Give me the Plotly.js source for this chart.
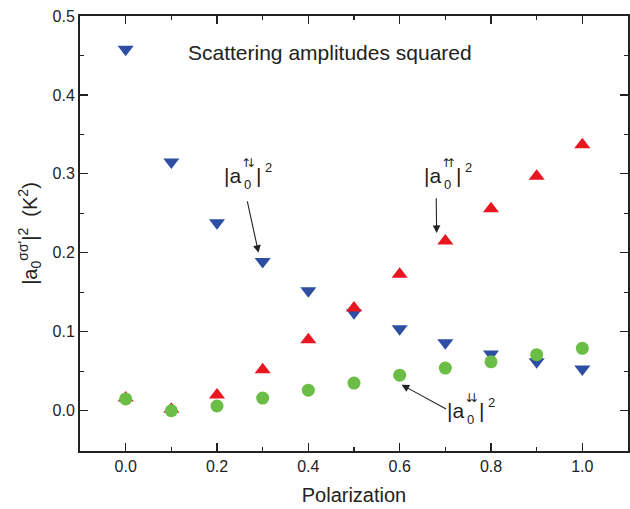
<!DOCTYPE html>
<html><head><meta charset="utf-8">
<script src="https://cdn.plot.ly/plotly-3.0.1.min.js"></script>
<style>html,body{margin:0;padding:0;background:#fff;}</style>
</head><body><div id="chart" style="width:630px;height:509px;"></div>
<script>
const polarization = [0.0, 0.1, 0.2, 0.3, 0.4, 0.5, 0.6, 0.7, 0.8, 0.9, 1.0];
const upDown   = [0.458, 0.315, 0.238, 0.189, 0.152, 0.124, 0.104, 0.086, 0.072, 0.062, 0.053];
const upUp     = [0.016, 0.002, 0.020, 0.052, 0.090, 0.130, 0.173, 0.215, 0.256, 0.297, 0.337];
const downDown = [0.015, 0.000, 0.006, 0.016, 0.026, 0.035, 0.045, 0.054, 0.062, 0.071, 0.079];
const xTickStep = 0.2, xMinorStep = 0.1;
const yTickStep = 0.1, yMinorStep = 0.05;
const tickFormat = ".1f";

const FONT = "Liberation Sans, Arial, sans-serif";
const INK = "#222";
const traces = [
  {x: polarization, y: upDown, mode: "markers", type: "scatter",
   marker: {symbol: "triangle-down", size: 14, color: "#2D4EA2"}},
  {x: polarization, y: upUp, mode: "markers", type: "scatter",
   marker: {symbol: "triangle-up", size: 14, color: "#E8161F"}},
  {x: polarization, y: downDown, mode: "markers", type: "scatter",
   marker: {symbol: "circle", size: 13, color: "#6BBE45"}}
];

function label(x, y, a1, a2) {
  const base = {xref: "x", yref: "y", x: x, y: y, showarrow: false,
                font: {family: FONT, size: 21, color: INK}};
  const small = {family: FONT, size: 13, color: INK};
  const arr = {family: "DejaVu Sans", size: 12, color: INK};
  return [
    Object.assign({}, base, {text: "|a", xanchor: "right", yanchor: "middle"}),
    Object.assign({}, base, {text: a1, xanchor: "center", yanchor: "middle",
                  xshift: 3, yshift: 13, font: arr}),
    Object.assign({}, base, {text: a2, xanchor: "center", yanchor: "middle",
                  xshift: 8, yshift: 13, font: arr}),
    Object.assign({}, base, {text: "0", xanchor: "left", yanchor: "middle",
                  xshift: -1, yshift: -9, font: small}),
    Object.assign({}, base, {text: "|", xanchor: "left", yanchor: "middle", xshift: 11}),
    Object.assign({}, base, {text: "2", xanchor: "left", yanchor: "middle",
                  xshift: 20, yshift: 8, font: small})
  ];
}
function arrow(x, y, ax, ay) {
  return {xref: "x", yref: "y", axref: "x", ayref: "y", x: x, y: y, ax: ax, ay: ay,
          text: "", showarrow: true, arrowhead: 2, arrowsize: 1.4, arrowwidth: 1.1,
          arrowcolor: INK};
}

const annotations = [
  {xref: "x", yref: "y", x: 0.448, y: 0.454, text: "Scattering amplitudes squared",
   showarrow: false, font: {family: FONT, size: 21, color: INK}},
  ...label(0.2576, 0.2975, "↑", "↓"),
  ...label(0.694, 0.2975, "↑", "↑"),
  ...label(0.7445, 0.0, "↓", "↓"),
  arrow(0.291, 0.200, 0.2657, 0.267),
  arrow(0.681, 0.225, 0.680, 0.271),
  arrow(0.604, 0.033, 0.705, 0.0013)
];

function axis(range, step, minorStep, title, standoff) {
  return {
    range: range, tickmode: "linear", tick0: 0, dtick: step, tickformat: tickFormat,
    showgrid: false, zeroline: false, showline: true, linecolor: INK, linewidth: 2,
    mirror: "ticks", ticks: "inside", ticklen: 8, tickwidth: 1.2, tickcolor: INK,
    tickfont: {family: FONT, size: 16, color: INK},
    minor: {tickmode: "linear", tick0: 0, dtick: minorStep, ticks: "inside", ticklen: 4,
            tickwidth: 1.2, tickcolor: INK, showgrid: false},
    title: {text: title, font: {family: FONT, size: 20, color: INK}, standoff: standoff}
  };
}

const layout = {
  width: 630, height: 509,
  margin: {l: 80, r: 2, t: 16, b: 58},
  paper_bgcolor: "#fff", plot_bgcolor: "#fff",
  showlegend: false,
  xaxis: axis([-0.1, 1.1], xTickStep, xMinorStep, "Polarization", 14),
  yaxis: axis([-0.051, 0.5], yTickStep, yMinorStep,
              "|a<sub>0</sub><sup>σσ'</sup>|<sup>2</sup>  (K<sup>2</sup>)", 10),
  annotations: annotations
};

Plotly.newPlot("chart", traces, layout, {displayModeBar: false, staticPlot: true});
</script></body></html>
